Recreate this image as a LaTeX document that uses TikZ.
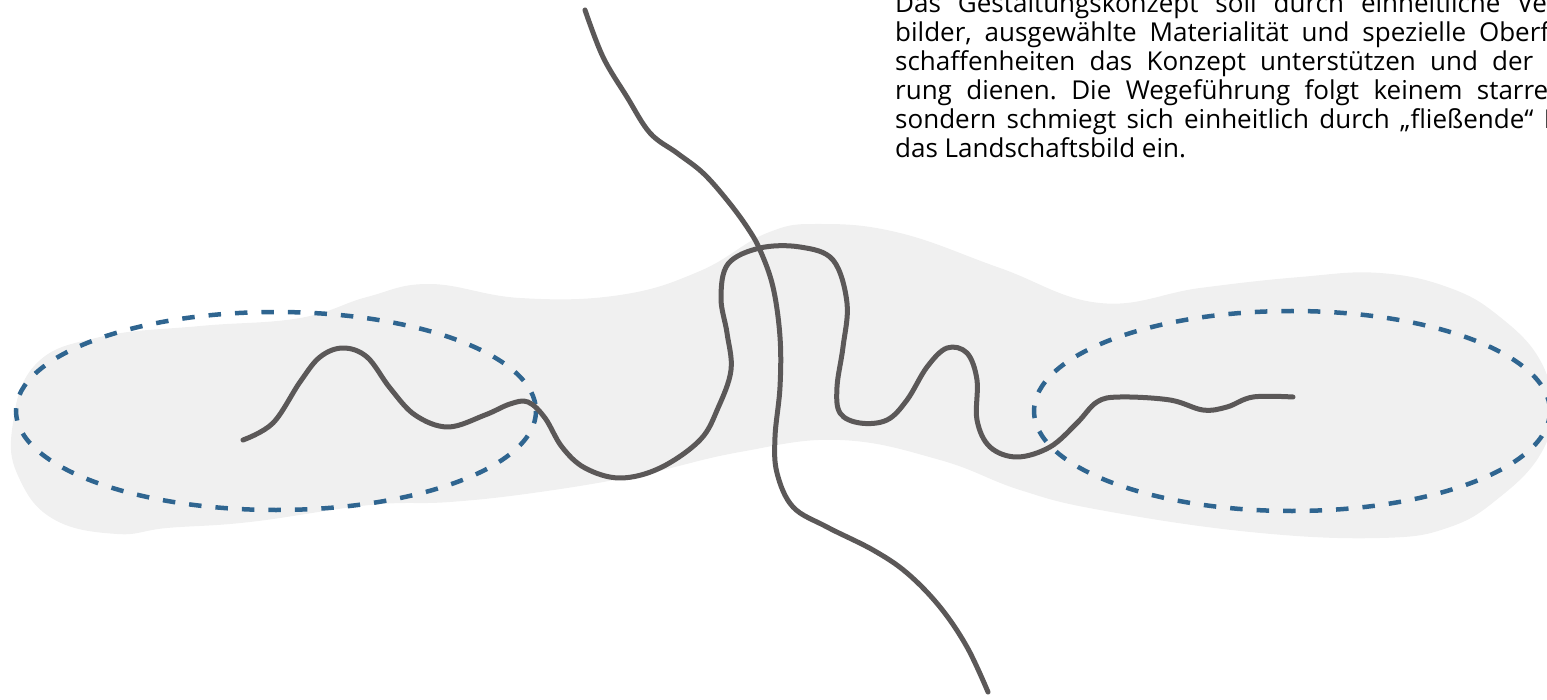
\documentclass[tikz,border=0pt]{standalone}
\usepackage{fontspec}
\newfontfamily\txtfont{Open Sans}
\definecolor{blobgrey}{HTML}{F0F0F0}
\definecolor{pathgrey}{HTML}{5B5858}
\definecolor{dashblue}{HTML}{2F6590}
\tikzset{
  pathline/.style={draw=pathgrey, line width=5pt, line cap=round, line join=round},
  zoneline/.style={draw=dashblue, line width=4.5pt, dash pattern=on 12.5pt off 14pt},
  txtline/.style={anchor=base west, inner sep=0pt, font=\txtfont\fontsize{26}{29}\selectfont\frenchspacing, text=black}
}
\begin{document}
\begin{tikzpicture}[x=1pt,y=-1pt]
\useasboundingbox (0,0) rectangle (1547,700);
\clip (0,0) rectangle (1547,700);
% grey landscape area
\fill[blobgrey] plot[smooth cycle, tension=0.7] coordinates {(12,430) (35,365) (100,337) (200,326) (300,318) (367,297) (430,284) (520,298) (620,295) (700,271) (767,233) (820,224) (900,233) (1000,268) (1100,303) (1200,288) (1300,277) (1380,273) (1450,288) (1500,317) (1540,360) (1552,410) (1540,455) (1500,497) (1450,527) (1380,538) (1250,532) (1100,510) (1020,490) (940,460) (840,440) (740,452) (640,475) (540,492) (450,502) (370,505) (250,522) (167,528) (117,534) (55,520) (20,480)};
% dashed zones
\draw[zoneline] (276,411) ellipse [x radius=260, y radius=99];
\draw[zoneline] (1292,411) ellipse [x radius=258, y radius=100];
% main winding path
\draw[pathline] plot[smooth, tension=0.6] coordinates {(243,440) (273,423) (300,382) (320,357) (343,348) (367,357) (390,388) (415,415) (448,427) (485,415) (510,404) (528,402) (545,418) (562,447) (585,468) (620,478) (660,468) (700,440) (718,408) (731,370) (727,333) (721,298) (728,264) (760,248) (800,247) (833,260) (847,303) (843,347) (837,387) (840,413) (860,423) (887,420) (907,400) (927,367) (947,348) (967,353) (977,380) (977,420) (990,447) (1017,457) (1050,447) (1077,423) (1097,402) (1120,397) (1170,400) (1203,410) (1227,407) (1253,397) (1293,397)};
% crossing path
\draw[pathline] plot[smooth, tension=0.6] coordinates {(585,10) (603,57) (627,97) (650,133) (677,153) (703,173) (727,200) (747,227) (760,250) (773,287) (780,337) (780,387) (775,437) (777,473) (793,507) (827,527) (873,550) (907,573) (940,607) (967,647) (988,692)};
% text
\node[txtline] (t1) at (895,13) {\makebox[666pt][s]{Das Gestaltungskonzept soll durch einheitliche Veg}};
\node[txtline] (t2) at (895,42) {\makebox[654pt][s]{bilder, ausgewählte Materialität und spezielle Oberf}};
\node[txtline] (t3) at (895,71) {\makebox[638pt][s]{schaffenheiten das Konzept unterstützen und der}};
\node[txtline] (t4) at (895,100) {\makebox[653pt][s]{rung dienen. Die Wegeführung folgt keinem starre}};
\node[txtline] (t5) at (895,129) {\makebox[662pt][s]{sondern schmiegt sich einheitlich durch „fließende“ L}};
\node[txtline] (t6) at (895,158) {das Landschaftsbild ein.};
\end{tikzpicture}
\end{document}
